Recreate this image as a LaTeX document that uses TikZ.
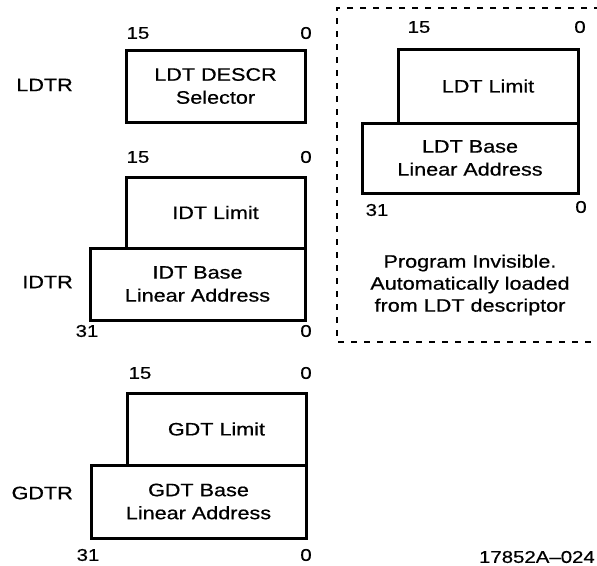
\documentclass[tikz,border=0pt]{standalone}
\usepackage{fontspec}
\setmainfont[FakeStretch=1.2,FakeBold=0.6]{Liberation Sans}
\begin{document}
\begin{tikzpicture}[x=1pt,y=-1pt,
  reg/.style={draw, line width=3pt, inner sep=0pt, outer sep=0pt, align=center,
              font=\fontsize{18}{23}\selectfont},
  lbl/.style={font=\fontsize{18}{22}\selectfont, anchor=east, inner sep=0pt},
  num/.style={font=\fontsize{17}{18}\selectfont, inner sep=0pt},
  note/.style={align=center, font=\fontsize{18}{22}\selectfont, inner sep=0pt},
  frame/.style={line width=2.4pt, dash pattern=on 6pt off 7pt}]
\useasboundingbox (0,0) rectangle (597,565);
% LDTR
\node[reg, minimum width=179pt, minimum height=72pt] (ldtr) at (215.5,86) {LDT DESCR\\Selector};
\node[lbl] (ldtrl) at (73,85) {LDTR};
\node[num] (l15) at (138,33) {15};
\node[num] (l0) at (306,33) {0};
% IDTR
\node[reg, minimum width=179pt, minimum height=71pt] (idtlim) at (215.5,212.5) {IDT Limit};
\node[reg, minimum width=215pt, minimum height=72pt] (idtbase) at (197.5,284) {IDT Base\\Linear Address};
\node[lbl] (idtrl) at (73,282) {IDTR};
\node[num] (i15) at (138,157) {15};
\node[num] (i0) at (306,157) {0};
\node[num] (i31) at (87,331) {31};
\node[num] (i0b) at (306,331) {0};
% GDTR
\node[reg, minimum width=179pt, minimum height=72pt] (gdtlim) at (216.5,429) {GDT Limit};
\node[reg, minimum width=215pt, minimum height=73pt] (gdtbase) at (198.5,501.5) {GDT Base\\Linear Address};
\node[lbl] (gdtrl) at (73,493) {GDTR};
\node[num] (g15) at (140,373) {15};
\node[num] (g0) at (306,373) {0};
\node[num] (g31) at (88,555) {31};
\node[num] (g0b) at (306,555) {0};
% LDT (program invisible)
\draw[frame] (600,8) -- (337,8) -- (337,342) -- (600,342);
\node[reg, minimum width=180pt, minimum height=74pt] (ldtlim) at (488,86) {LDT Limit};
\node[reg, minimum width=216pt, minimum height=70pt] (ldtbase) at (470,158) {LDT Base\\Linear Address};
\node[num] (r15) at (419,27) {15};
\node[num] (r0) at (580,27) {0};
\node[num] (r31) at (377,210) {31};
\node[num] (r0b) at (581,207) {0};
\node[note] (inv) at (470,285) {Program Invisible.\\Automatically loaded\\from LDT descriptor};
% figure id
\node[num, anchor=east] (fig) at (595,557) {17852A--024};
\end{tikzpicture}
\end{document}
